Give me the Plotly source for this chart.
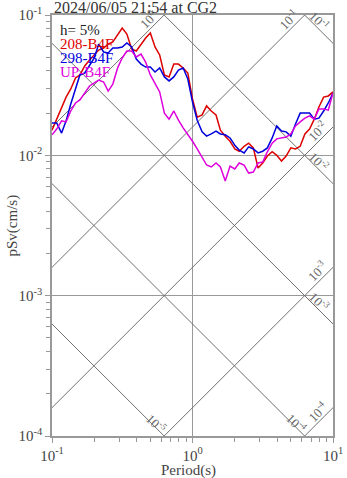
import math
import plotly.graph_objects as go

# ---------------- data ----------------
periods = [0.1, 0.108, 0.117, 0.126, 0.136, 0.147, 0.158, 0.171, 0.185, 0.2,
           0.215, 0.233, 0.251, 0.271, 0.293, 0.316, 0.341, 0.369, 0.398, 0.43,
           0.464, 0.501, 0.541, 0.584, 0.631, 0.681, 0.736, 0.794, 0.858, 0.926,
           1.0, 1.08, 1.17, 1.26, 1.36, 1.47, 1.58, 1.71, 1.85, 2.0,
           2.15, 2.33, 2.51, 2.71, 2.93, 3.16, 3.41, 3.69, 3.98, 4.3,
           4.64, 5.01, 5.41, 5.84, 6.31, 6.81, 7.36, 7.94, 8.58, 9.26, 10.0]

sv_208 = [0.0151, 0.0181, 0.0221, 0.0260, 0.0297, 0.0356, 0.0374, 0.0433, 0.0478, 0.0519,
          0.0563, 0.0582, 0.0621, 0.0642, 0.0720, 0.0808, 0.0732, 0.0572, 0.0554, 0.0621,
          0.0686, 0.0744, 0.0592, 0.0519, 0.0374, 0.0362, 0.0447, 0.0447, 0.0419, 0.0386,
          0.0252, 0.0187, 0.0194, 0.0225, 0.0207, 0.0194, 0.0151, 0.0137, 0.0126, 0.0111,
          0.0107, 0.0116, 0.0122, 0.0113, 0.00812, 0.00882, 0.00989, 0.0106, 0.0100, 0.00911,
          0.00989, 0.0113, 0.0111, 0.0116, 0.0142, 0.0154, 0.0181, 0.0221, 0.0260, 0.0265, 0.0283]

sv_298 = [0.0170, 0.0170, 0.0144, 0.0176, 0.0232, 0.0302, 0.0374, 0.0386, 0.0433, 0.0494,
          0.0621, 0.0545, 0.0536, 0.0582, 0.0582, 0.0592, 0.0632, 0.0592, 0.0486, 0.0447,
          0.0426, 0.0426, 0.0392, 0.0419, 0.0362, 0.0339, 0.0362, 0.0405, 0.0419, 0.0350,
          0.0240, 0.0178, 0.0147, 0.0137, 0.0142, 0.0149, 0.0142, 0.0140, 0.0133, 0.0118,
          0.0109, 0.0104, 0.0115, 0.0111, 0.0104, 0.0107, 0.0113, 0.0133, 0.0162, 0.0149,
          0.0147, 0.0137, 0.0167, 0.0200, 0.0200, 0.0200, 0.0181, 0.0184, 0.0207, 0.0236, 0.0278]

sv_up = [0.0140, 0.0154, 0.0176, 0.0173, 0.0207, 0.0236, 0.0248, 0.0278, 0.0312, 0.0328,
         0.0344, 0.0333, 0.0287, 0.0322, 0.0419, 0.0494, 0.0554, 0.0554, 0.0502, 0.0527,
         0.0462, 0.0374, 0.0322, 0.0283, 0.0200, 0.0181, 0.0207, 0.0178, 0.0157, 0.0142,
         0.0126, 0.0111, 0.00973, 0.00853, 0.00826, 0.00882, 0.00826, 0.00656, 0.00839, 0.00799,
         0.00882, 0.00853, 0.00748, 0.00760, 0.00882, 0.00896, 0.0106, 0.0122, 0.0131, 0.0133,
         0.0135, 0.0142, 0.0162, 0.0173, 0.0184, 0.0191, 0.0181, 0.0214, 0.0214, 0.0210, 0.0278]

series_names = ["208-B4F", "298-B4F", "UP-B4F"]
series_colors = ["#dd0000", "#0000dd", "#dd00dd"]

title_text = "2024/06/05 21:54 at CG2"
damping_text = "h= 5%"

disp_levels = [1e-1, 1e-2, 1e-3, 1e-4, 1e-5]   # cm
acc_levels = [1e0, 1e-1, 1e-2, 1e-3, 1e-4]     # cm/s^2

x_tickvals = [0.1, 1, 10]
x_ticktext = ["10<sup>-1</sup>", "10<sup>0</sup>", "10<sup>1</sup>"]
y_tickvals = [1e-4, 1e-3, 1e-2, 1e-1]
y_ticktext = ["10<sup>-4</sup>", "10<sup>-3</sup>", "10<sup>-2</sup>", "10<sup>-1</sup>"]

# ---------------- layout geometry ----------------
W, H = 347, 478
PL, PT, PR, PB = 52, 15, 14, 42
PW, PH = W - PL - PR, H - PT - PB
XR = [-1, 1]
YR = [-4, -1]
FONT = "Liberation Serif"
GRID = "#999999"
DIAG = "#707070"


def px_to_log(px, py):
    lx = XR[0] + (px - PL) / PW * (XR[1] - XR[0])
    ly = YR[1] - (py - PT) / PH * (YR[1] - YR[0])
    return lx, ly


def log_to_px(lx, ly):
    px = PL + (lx - XR[0]) / (XR[1] - XR[0]) * PW
    py = PT + (YR[1] - ly) / (YR[1] - YR[0]) * PH
    return px, py


fig = go.Figure()

annotations = []
TWO_PI = 2 * math.pi
Tmin, Tmax = 10 ** XR[0], 10 ** XR[1]
Smin, Smax = 10 ** YR[0], 10 ** YR[1]


def sup_label(v):
    e = int(round(math.log10(v)))
    return "10<sup>%d</sup>" % e


# acceleration lines (Sv = A T / 2pi), rising
for A in acc_levels:
    fig.add_trace(go.Scatter(x=[Tmin, Tmax], y=[A * Tmin / TWO_PI, A * Tmax / TWO_PI],
                             mode="lines", line=dict(color=DIAG, width=1),
                             hoverinfo="skip", showlegend=False))
    t_top = TWO_PI * Smax / A
    if t_top <= Tmax:
        ex, ey = log_to_px(math.log10(t_top), YR[1])
    else:
        ex, ey = log_to_px(XR[1], math.log10(A * Tmax / TWO_PI))
    cx = ex - 16
    line_y = ey + (ex - cx)
    cy = line_y - 12
    lx, ly = px_to_log(cx, cy)
    annotations.append(dict(x=lx, y=ly, xref="x", yref="y", text=sup_label(A),
                            showarrow=False, textangle=-45,
                            font=dict(family=FONT, size=13, color="#666666")))

# displacement lines (Sv = 2pi D / T), falling
for D in disp_levels:
    fig.add_trace(go.Scatter(x=[Tmin, Tmax], y=[TWO_PI * D / Tmin, TWO_PI * D / Tmax],
                             mode="lines", line=dict(color=DIAG, width=1),
                             hoverinfo="skip", showlegend=False))
    s_right = TWO_PI * D / Tmax
    if s_right >= Smin:
        ex, ey = log_to_px(XR[1], math.log10(s_right))
        cx = ex - 14
        off = 9
    else:
        ex, ey = log_to_px(math.log10(TWO_PI * D / Smin), YR[0])
        cx = ex - 8
        off = 5
    line_y = ey - (ex - cx)
    cy = line_y - off
    lx, ly = px_to_log(cx, cy)
    annotations.append(dict(x=lx, y=ly, xref="x", yref="y", text=sup_label(D),
                            showarrow=False, textangle=45,
                            font=dict(family=FONT, size=13, color="#666666")))

# spectra
for vals, name, col in zip([sv_208, sv_298, sv_up], series_names, series_colors):
    fig.add_trace(go.Scatter(x=periods, y=vals, mode="lines", name=name,
                             line=dict(color=col, width=1.5), showlegend=False))

# text block in upper-left
text_lines = [(damping_text, "#222222"),
              (series_names[0], series_colors[0]),
              (series_names[1], series_colors[1]),
              (series_names[2], series_colors[2])]
for i, (t, c) in enumerate(text_lines):
    py = 30 + 14 * i
    annotations.append(dict(x=(58 - PL) / PW, y=1 - (py - PT) / PH, xref="paper", yref="paper",
                            text=t, showarrow=False, xanchor="left", yanchor="middle",
                            font=dict(family=FONT, size=15, color=c)))

# title
annotations.append(dict(x=0, y=1 + (PT - 8) / PH, xref="paper", yref="paper",
                        text=title_text, showarrow=False, xanchor="left", yanchor="middle",
                        font=dict(family=FONT, size=16, color="#333333")))
# axis titles
annotations.append(dict(x=0.5 - 4 / PW, y=-(470 - PT - PH) / PH, xref="paper", yref="paper",
                        text="Period(s)", showarrow=False, xanchor="center", yanchor="middle",
                        font=dict(family=FONT, size=15, color="#444444")))
annotations.append(dict(x=-(PL - 12) / PW, y=0.5, xref="paper", yref="paper",
                        text="pSv(cm/s)", showarrow=False, textangle=-90,
                        xanchor="center", yanchor="middle",
                        font=dict(family=FONT, size=15, color="#444444")))

minor_x = [m * 10 ** e for e in (-1, 0) for m in range(2, 10)]
minor_y = [m * 10 ** e for e in (-4, -3, -2) for m in range(2, 10)]

axis_common = dict(type="log", showline=True, mirror=True, linecolor=GRID, linewidth=1.5,
                   showgrid=True, gridcolor=GRID, gridwidth=1.2, zeroline=False,
                   ticks="outside", ticklen=5, tickcolor=GRID, tickwidth=1,
                   automargin=False,
                   tickfont=dict(family=FONT, size=15, color="#444444"))

fig.update_layout(
    width=W, height=H, autosize=False,
    margin=dict(l=PL, r=PR, t=PT, b=PB, pad=0),
    paper_bgcolor="white", plot_bgcolor="white",
    showlegend=False,
    xaxis=dict(range=XR, tickmode="array", tickvals=x_tickvals, ticktext=x_ticktext,
               minor=dict(tickmode="array", tickvals=minor_x, ticks="outside", ticklen=4,
                          tickcolor=GRID, showgrid=False),
               **axis_common),
    yaxis=dict(range=YR, tickmode="array", tickvals=y_tickvals, ticktext=y_ticktext,
               minor=dict(tickmode="array", tickvals=minor_y, ticks="outside", ticklen=4,
                          tickcolor=GRID, showgrid=False),
               **axis_common),
    annotations=annotations,
)

fig.write_html("out.html")
